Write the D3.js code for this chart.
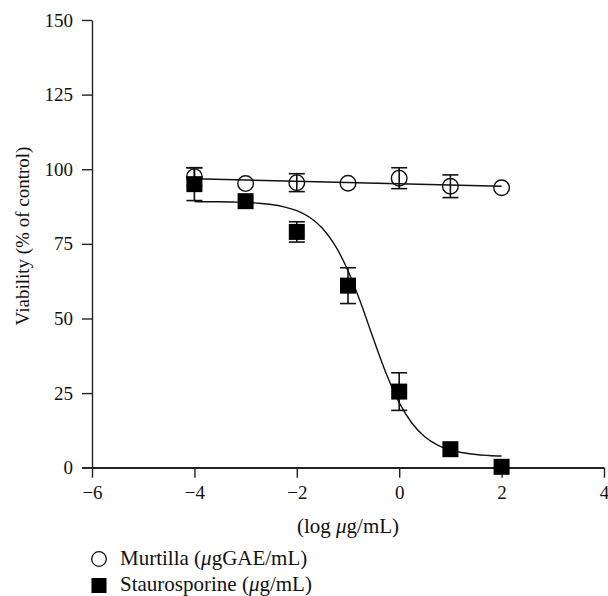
<!DOCTYPE html>
<html>
<head>
<meta charset="utf-8">
<script src="https://cdn.jsdelivr.net/npm/d3@7"></script>
<style>
  html, body { margin: 0; padding: 0; background: #fff; }
  svg { display: block; }
  text { font-family: "Liberation Serif", "DejaVu Serif", serif; fill: #111; }
</style>
</head>
<body>
<svg id="chart" width="608" height="596"></svg>
<script>
// ---- data ----
const doses = [-4, -3, -2, -1, 0, 1, 2];                 // log µg/mL
const murtillaMean = [97.5, 95.2, 95.5, 95.3, 97.0, 94.3, 93.8];
const murtillaErr  = [3.0, 0, 3.0, 0, 3.5, 3.8, 0];
const stauroMean   = [95.0, 89.3, 79.0, 61.0, 25.5, 6.2, 0.3];
const stauroErr    = [5.5, 0, 3.4, 6.0, 6.3, 0, 0];
// fitted curves
const murtillaFitX = [-4, 2];
const murtillaFitY = [96.8, 94.3];
const stauroFitX = [-4, -3.75, -3.5, -3.25, -3, -2.75, -2.5, -2.25, -2, -1.75, -1.5, -1.25, -1,
                    -0.75, -0.5, -0.25, 0, 0.25, 0.5, 0.75, 1, 1.25, 1.5, 1.75, 2];
const stauroFitY = [89.2, 89.1, 89.1, 89.0, 88.9, 88.6, 88.2, 87.4, 86.1, 83.9, 80.2, 74.4, 66.0,
                    55.2, 43.0, 31.4, 21.8, 14.9, 10.4, 7.6, 5.9, 5.0, 4.4, 4.1, 3.9];
const xTicks = [-6, -4, -2, 0, 2, 4];
const yTicks = [0, 25, 50, 75, 100, 125, 150];
const legendLabels = ["Murtilla", "Staurosporine"];

// ---- scales ----
const svg = d3.select("#chart");
const x = d3.scaleLinear().domain([-6, 4]).range([92, 604]);
const y = d3.scaleLinear().domain([0, 150]).range([467.7, 20]);
const FS_TICK = 19;
const FS_TITLE = 21;
const axisColor = "#222";

// axes
const gx = svg.append("g").attr("transform", `translate(0,${y(0)})`)
  .call(d3.axisBottom(x).tickValues(xTicks).tickSize(10).tickSizeOuter(0).tickPadding(8));
const gy = svg.append("g").attr("transform", `translate(${x(-6)},0)`)
  .call(d3.axisLeft(y).tickValues(yTicks).tickSize(10).tickSizeOuter(0).tickPadding(9));
[gx, gy].forEach(g => {
  g.selectAll("path.domain").attr("stroke", axisColor).attr("stroke-width", 1.4);
  g.selectAll(".tick line").attr("stroke", axisColor).attr("stroke-width", 1.4);
  g.selectAll(".tick text").attr("font-size", FS_TICK).attr("font-family", "Liberation Serif").attr("fill", "#111");
});
// extend x axis line to the left under the 0 tick
svg.append("line").attr("x1", x(-6) - 10).attr("x2", x(4))
  .attr("y1", y(0)).attr("y2", y(0)).attr("stroke", axisColor).attr("stroke-width", 1.4);

// axis titles
const xt = svg.append("text").attr("x", (x(-6) + x(4)) / 2).attr("y", 533)
  .attr("text-anchor", "middle").attr("font-size", FS_TITLE);
xt.append("tspan").text("(log ");
xt.append("tspan").attr("font-style", "italic").text("\u03bc");
xt.append("tspan").text("g/mL)");

svg.append("text").attr("transform", `translate(29,236) rotate(-90)`)
  .attr("text-anchor", "middle").attr("font-size", 19).text("Viability (% of control)");

// fitted lines
const line = d3.line().x(d => x(d[0])).y(d => y(d[1]));
svg.append("path").datum(d3.zip(murtillaFitX, murtillaFitY))
  .attr("d", line).attr("fill", "none").attr("stroke", "#111").attr("stroke-width", 1.4);
svg.append("path").datum(d3.zip(stauroFitX, stauroFitY))
  .attr("d", line.curve(d3.curveMonotoneX)).attr("fill", "none").attr("stroke", "#111").attr("stroke-width", 1.4);

// error bars
function errorBars(means, errs) {
  const data = doses.map((d, i) => ({ d, m: means[i], e: errs[i] })).filter(o => o.e > 0);
  const g = svg.append("g").attr("stroke", "#111").attr("stroke-width", 1.6);
  g.selectAll("line.v").data(data).join("line")
    .attr("x1", o => x(o.d)).attr("x2", o => x(o.d))
    .attr("y1", o => y(o.m + o.e)).attr("y2", o => y(o.m - o.e));
  g.selectAll("line.t").data(data).join("line")
    .attr("x1", o => x(o.d) - 8).attr("x2", o => x(o.d) + 8)
    .attr("y1", o => y(o.m + o.e)).attr("y2", o => y(o.m + o.e));
  g.selectAll("line.b").data(data).join("line")
    .attr("x1", o => x(o.d) - 8).attr("x2", o => x(o.d) + 8)
    .attr("y1", o => y(o.m - o.e)).attr("y2", o => y(o.m - o.e));
}
errorBars(murtillaMean, murtillaErr);
errorBars(stauroMean, stauroErr);

// markers
svg.append("g").selectAll("circle").data(doses).join("circle")
  .attr("cx", d => x(d)).attr("cy", (d, i) => y(murtillaMean[i])).attr("r", 7.8)
  .attr("fill", "none").attr("stroke", "#111").attr("stroke-width", 1.4);
svg.append("g").selectAll("rect").data(doses).join("rect")
  .attr("x", d => x(d) - 8).attr("y", (d, i) => y(stauroMean[i]) - 8)
  .attr("width", 16).attr("height", 16).attr("fill", "#000");

// legend
const lg = svg.append("g");
lg.append("circle").attr("cx", 99).attr("cy", 559).attr("r", 7.3)
  .attr("fill", "none").attr("stroke", "#111").attr("stroke-width", 1.3);
lg.append("rect").attr("x", 91.5).attr("y", 578).attr("width", 15).attr("height", 15).attr("fill", "#000");
const t1 = lg.append("text").attr("x", 120).attr("y", 565).attr("font-size", FS_TITLE);
t1.append("tspan").text(legendLabels[0] + " (");
t1.append("tspan").attr("font-style", "italic").text("\u03bc");
t1.append("tspan").text("gGAE/mL)");
const t2 = lg.append("text").attr("x", 120).attr("y", 591).attr("font-size", FS_TITLE);
t2.append("tspan").text(legendLabels[1] + " (");
t2.append("tspan").attr("font-style", "italic").text("\u03bc");
t2.append("tspan").text("g/mL)");
</script>
</body>
</html>
